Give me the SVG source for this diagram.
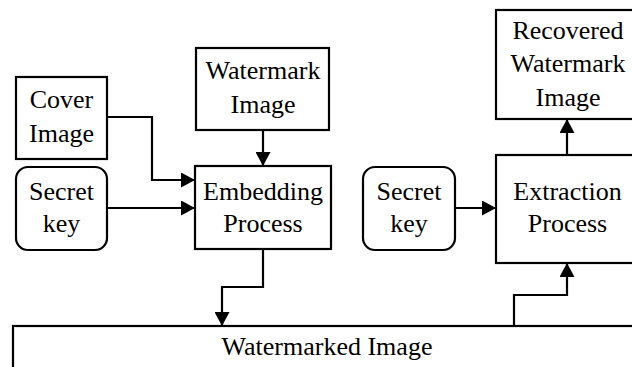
<svg xmlns="http://www.w3.org/2000/svg" width="632" height="367" viewBox="0 0 632 367">
<defs>
<style>
.box{fill:#fff;stroke:#000;stroke-width:2.2}
.t{font-family:"Times New Roman","Liberation Serif","Noto Serif","DejaVu Serif",serif;font-size:26px;fill:#000;text-anchor:middle}
.c{fill:none;stroke:#000;stroke-width:2.2}
</style>
<marker id="ah" markerUnits="userSpaceOnUse" markerWidth="15" markerHeight="15" refX="14" refY="7.5" orient="auto" viewBox="0 0 15 15">
<path d="M0,0 L14,7.5 L0,15 z" fill="#000"/>
</marker>
</defs>
<rect width="632" height="367" fill="#fff"/>
<g id="cover">
<rect class="box" x="16" y="77" width="91" height="82"/>
<text class="t" x="61.5" y="108">Cover</text>
<text class="t" x="61.5" y="142">Image</text>
</g>
<g id="secretkey1">
<rect class="box" x="16" y="167" width="91" height="83" rx="12"/>
<text class="t" x="61.5" y="200">Secret</text>
<text class="t" x="61.5" y="232">key</text>
</g>
<g id="watermark">
<rect class="box" x="196" y="48" width="133" height="82"/>
<text class="t" x="263" y="79">Watermark</text>
<text class="t" x="263" y="113">Image</text>
</g>
<g id="embedding">
<rect class="box" x="195" y="166" width="136" height="83"/>
<text class="t" x="263" y="200">Embedding</text>
<text class="t" x="263" y="232">Process</text>
</g>
<g id="secretkey2">
<rect class="box" x="363" y="167" width="92" height="83" rx="12"/>
<text class="t" x="409" y="200">Secret</text>
<text class="t" x="409" y="232">key</text>
</g>
<g id="extraction">
<rect class="box" x="496" y="155" width="150" height="108"/>
<text class="t" x="567.5" y="200">Extraction</text>
<text class="t" x="567.5" y="232">Process</text>
</g>
<g id="recovered">
<rect class="box" x="496" y="10" width="150" height="109"/>
<text class="t" x="568" y="39">Recovered</text>
<text class="t" x="568" y="72">Watermark</text>
<text class="t" x="568" y="106">Image</text>
</g>
<g id="watermarked">
<rect class="box" x="13" y="326" width="640" height="60"/>
<text class="t" x="327" y="355">Watermarked Image</text>
</g>
<g id="connectors">
<path class="c" d="M263,130 V166" marker-end="url(#ah)"/>
<path class="c" d="M107,117 H152 V180 H195" marker-end="url(#ah)"/>
<path class="c" d="M107,208 H195" marker-end="url(#ah)"/>
<path class="c" d="M263,249 V287 H222 V326" marker-end="url(#ah)"/>
<path class="c" d="M514,326 V295 H567 V263" marker-end="url(#ah)"/>
<path class="c" d="M455,208 H496" marker-end="url(#ah)"/>
<path class="c" d="M567,155 V119" marker-end="url(#ah)"/>
</g>
</svg>
